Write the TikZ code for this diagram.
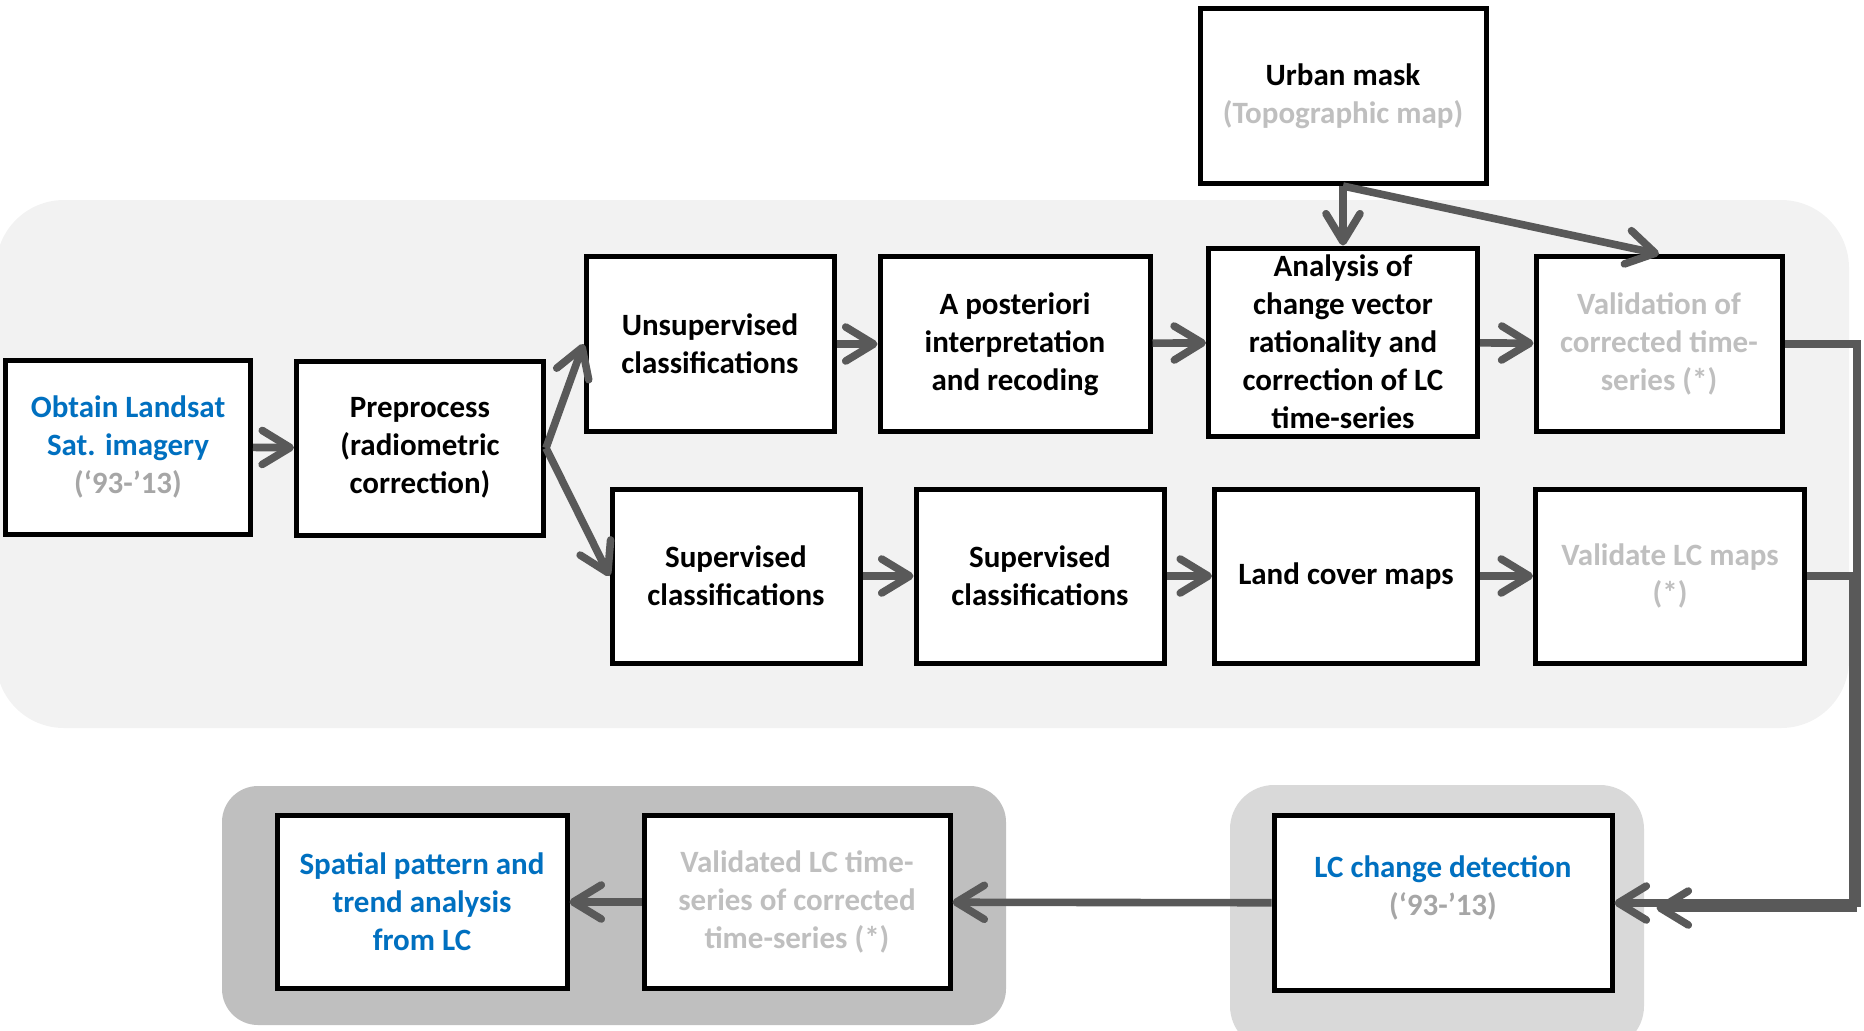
\documentclass[tikz,border=0pt]{standalone}
\usepackage{fontspec}
\setmainfont{Carlito}
\usepackage{xcolor}
\usetikzlibrary{arrows.meta}

\definecolor{lcblue}{HTML}{0070C0}
\definecolor{fadetext}{HTML}{BFBFBF}
\definecolor{yeartext}{HTML}{A6A6A6}
\definecolor{linkgray}{HTML}{595959}
\definecolor{panelpale}{HTML}{F2F2F2}
\definecolor{panelmid}{HTML}{D9D9D9}
\definecolor{paneldark}{HTML}{BFBFBF}

\begin{document}
\begin{tikzpicture}[x=0.5pt, y=-0.5pt,
    stepbox/.style={draw=black, line width=2.5pt, fill=white, align=center,
      font=\fontsize{15.5pt}{19pt}\selectfont\bfseries, inner sep=1pt},
    link/.style={draw=linkgray, line width=3.8pt,
      -{Straight Barb[length=14pt, width=17pt, round]}}]
        \useasboundingbox (0,0) rectangle (1864,1030);
        \clip (0,0) rectangle (1864,1030);

        % Background panels
        \fill[panelpale, rounded corners=34pt] (-4,200) rectangle (1849,728);
        \fill[paneldark, rounded corners=18pt] (222,786) rectangle (1006,1025);
        \fill[panelmid, rounded corners=22pt] (1230,785) rectangle (1644,1050);

        % 1. Inputs and preprocessing
        \node[stepbox, minimum width=143pt, minimum height=87.5pt] (urban) at (1343,96)
            {Urban mask\\{\color{fadetext}(Topographic map)}};
        \node[stepbox, minimum width=122.5pt, minimum height=87pt] (obtain) at (128,447)
            {{\color{lcblue}Obtain Landsat}\\{\color{lcblue}Sat. imagery}\\{\color{yeartext}(‘93-’13)}};
        \node[stepbox, minimum width=123.5pt, minimum height=87pt] (prep) at (420,448)
            {Preprocess\\(radiometric\\correction)};

        % 2. Unsupervised branch
        \node[stepbox, minimum width=124pt, minimum height=87.5pt] (unsup) at (710,344)
            {Unsupervised\\classifications};
        \node[stepbox, minimum width=135pt, minimum height=87.5pt] (apost) at (1015,344)
            {A posteriori\\interpretation\\and recoding};
        \node[stepbox, minimum width=134.5pt, minimum height=94pt] (analysis) at (1343,342)
            {Analysis of\\change vector\\rationality and\\correction of LC\\time-series};
        \node[stepbox, minimum width=123pt, minimum height=87.5pt] (valts) at (1659,344)
            {\color{fadetext}Validation of\\\color{fadetext}corrected time-\\\color{fadetext}series (*)};

        % 3. Supervised branch
        \node[stepbox, minimum width=124pt, minimum height=87pt] (supone) at (736,576)
            {Supervised\\classifications};
        \node[stepbox, minimum width=124pt, minimum height=87pt] (suptwo) at (1040,576)
            {Supervised\\classifications};
        \node[stepbox, minimum width=131.5pt, minimum height=87pt] (lcmaps) at (1346,576)
            {Land cover maps};
        \node[stepbox, minimum width=134.5pt, minimum height=87pt] (vallc) at (1670,576)
            {\color{fadetext}Validate LC maps\\\color{fadetext}(*)};

        % 4. Change detection and analysis
        \node[stepbox, minimum width=169pt, minimum height=87.5pt] (lcchange) at (1443,903)
            {{\color{lcblue}LC change detection}\\{\color{yeartext}(‘93-’13)}\\[-7pt]\strut};
        \node[stepbox, minimum width=153pt, minimum height=86.5pt] (valtsc) at (797,902)
            {\color{fadetext}Validated LC time-\\\color{fadetext}series of corrected\\\color{fadetext}time-series (*)};
        \node[stepbox, minimum width=145pt, minimum height=86.5pt] (spatial) at (422,902)
            {\color{lcblue}Spatial pattern and\\\color{lcblue}trend analysis\\\color{lcblue}from LC};

        % Connectors
        \coordinate (rail) at (1857,0);
        \coordinate (railb) at (1853,0);
        \draw[link] (obtain) -- (prep);
        \draw[link] (prep.east) -- (unsup.west);
        \draw[link] (prep.east) -- (supone.west);
        \draw[link] (unsup) -- (apost);
        \draw[link] (apost) -- (analysis);
        \draw[link] (analysis) -- (valts);
        \draw[link] (supone) -- (suptwo);
        \draw[link] (suptwo) -- (lcmaps);
        \draw[link] (lcmaps) -- (vallc);
        \draw[link] (urban.south) -- (analysis.north);
        \draw[link] (urban.south) -- (valts.north);
        \draw[link] (valts.east) -- (valts.east -| rail) |- (lcchange.east);
        \draw[link] (vallc.east) -- (vallc.east -| railb) |- ([shift={(42,5)}]lcchange.east);
        \draw[link] (lcchange) -- (valtsc);
        \draw[link] (valtsc) -- (spatial);

    \end{tikzpicture}
\end{document}
